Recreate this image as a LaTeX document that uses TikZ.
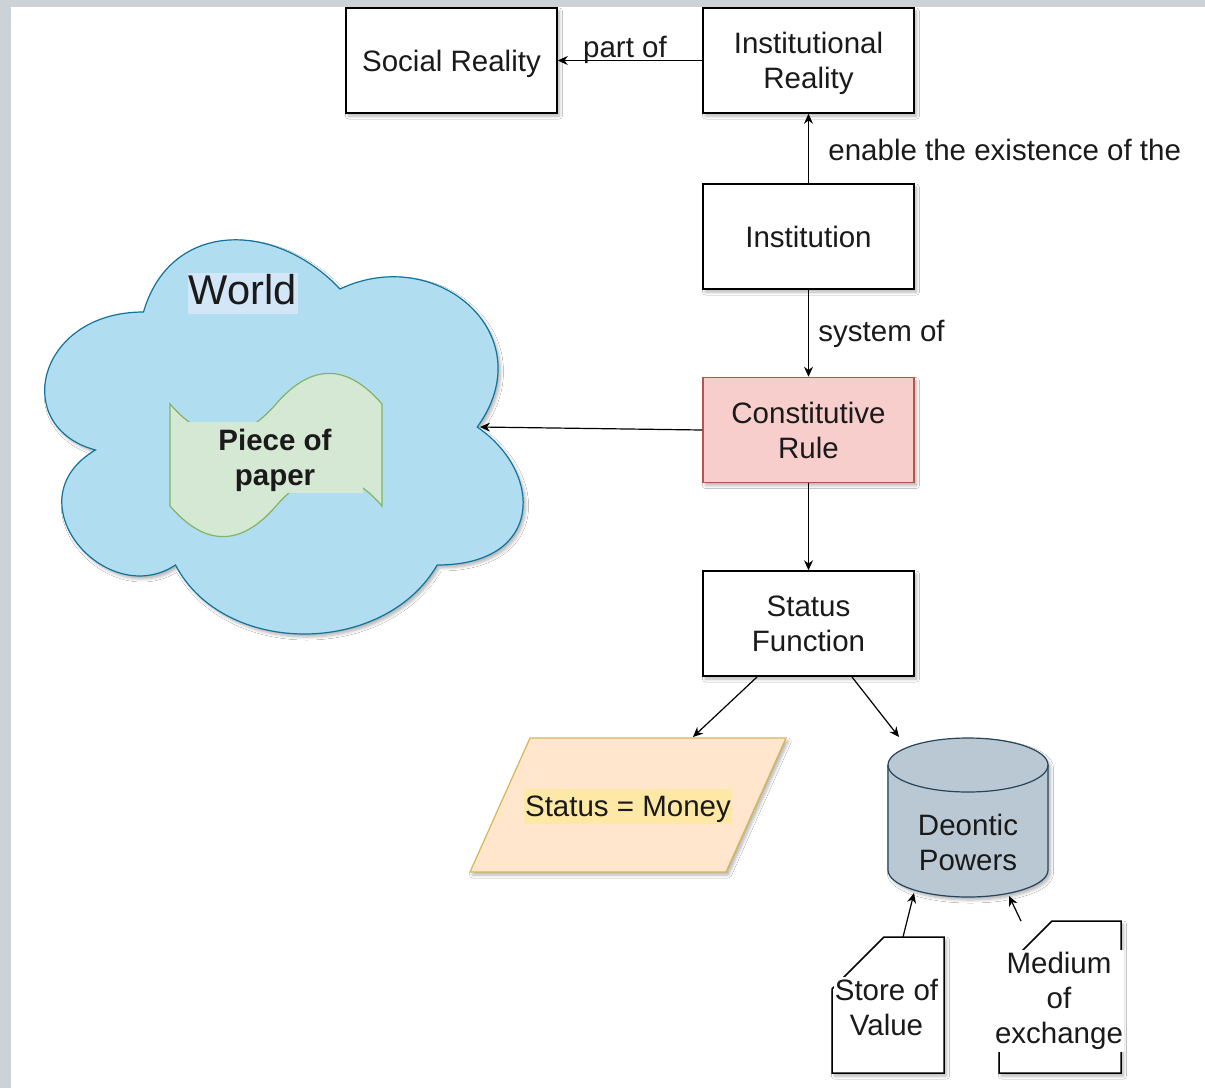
\documentclass[tikz,border=0pt]{standalone}
\usepackage{fontspec}
\setmainfont{Liberation Sans}
\usetikzlibrary{arrows.meta,shadows,shadows.blur}
\definecolor{framegrey}{HTML}{CDD2D7}
\definecolor{txt}{HTML}{1A1A1A}
\definecolor{rulefill}{HTML}{F8CECC}
\definecolor{rulestroke}{HTML}{B85450}
\definecolor{cloudfill}{HTML}{B1DDF0}
\definecolor{cloudstroke}{HTML}{10739E}
\definecolor{worldbg}{HTML}{D2E6F7}
\definecolor{tapefill}{HTML}{D5E8D4}
\definecolor{tapestroke}{HTML}{82B366}
\definecolor{moneyfill}{HTML}{FFE6CC}
\definecolor{moneystroke}{HTML}{D6B656}
\definecolor{moneybg}{HTML}{FDE8A6}
\definecolor{cylfill}{HTML}{BAC8D3}
\definecolor{cylstroke}{HTML}{23445D}
\newcommand\lblfont{\fontsize{14.75}{17.5}\selectfont}
\tikzset{
  myshadow/.style={blur shadow={shadow xshift=1.2pt, shadow yshift=-1.5pt, shadow blur radius=1.5pt, shadow blur steps=6, shadow opacity=30}},
  box/.style={draw=black, line width=0.75pt, fill=white, minimum width=105.5pt, minimum height=52.5pt, align=center, inner sep=0pt, font=\lblfont, text=txt, myshadow},
  lbl/.style={inner sep=0pt, font=\lblfont, text=txt, align=center},
  arr/.style={-{Stealth[length=5pt,width=4.5pt]}, line width=0.6pt, draw=black},
}
\begin{document}
\begin{tikzpicture}[x=0.5pt,y=-0.5pt]
\fill[white] (0,0) rectangle (1205,1088);
\fill[framegrey] (0,0) rectangle (11,1088);
\fill[framegrey] (0,0) rectangle (1205,7);
\useasboundingbox (0,0) rectangle (1205,1088);

% cloud
\path[fill=cloudfill, draw=cloudstroke, line width=0.6pt, myshadow]
  (143.5,312) .. controls (36.7,312) and (10,427) .. (95.4,450)
  .. controls (10,500.6) and (106.1,611) .. (175.5,565)
  .. controls (223.6,657) and (383.8,657) .. (437.2,565)
  .. controls (544,565) and (544,473) .. (477.25,427)
  .. controls (544,335) and (437.2,243) .. (340,289)
  .. controls (275,220) and (170.2,220) .. (143.5,312) -- cycle;
\node[inner sep=0pt, fill=worldbg, minimum width=55pt, minimum height=20.5pt, text depth=4pt, font=\fontsize{20.8}{24}\selectfont, text=txt] (world) at (242.5,293) {World};
\coordinate (cloudR) at (480,427);

% tape (piece of paper)
\path[fill=tapefill, draw=tapestroke, line width=0.6pt]
  (170,404) .. controls (205.3,444.8) and (240.7,444.8) .. (276,404)
  .. controls (311.3,363.2) and (346.7,363.2) .. (382,404)
  -- (382,506)
  .. controls (346.7,465.2) and (311.3,465.2) .. (276,506)
  .. controls (240.7,546.8) and (205.3,546.8) .. (170,506) -- cycle;
\node[lbl, fill=tapefill, minimum width=88pt, minimum height=35.5pt, text depth=0pt, font=\lblfont\bfseries] (paper) at (275,457.5) {Piece of\\paper};

% boxes
\node[box, text depth=0pt] (soc) at (451.5,60.5) {Social Reality};
\node[box, text depth=0pt] (inst) at (808.5,60.5) {Institutional\\Reality};
\node[box] (instit) at (808.5,236.5) {Institution};
\node[box, fill=rulefill, draw=rulestroke] (crule) at (808.5,430) {Constitutive\\Rule};
\node[box] (sf) at (808.5,623.5) {Status\\Function};

% edge labels
\node[lbl, text depth=0pt] (lpart) at (625,47) {part of};
\node[lbl, anchor=west] (lenable) at (828,150) {enable the existence of the};
\node[lbl, anchor=west, text depth=0pt] (lsystem) at (818,331) {system of};

% parallelogram
\path[fill=moneyfill, draw=moneystroke, line width=0.6pt, myshadow]
  (530,738) -- (786,738) -- (726,872) -- (470,872) -- cycle;
\node[lbl, fill=moneybg, inner xsep=0.75pt, minimum height=17.5pt, text depth=0pt] (money) at (628,806) {Status = Money};
\coordinate (moneyTop) at (693,737);

% cylinder
\path[fill=cylfill, draw=cylstroke, line width=0.6pt, myshadow]
  (888,765) -- (888,870)
  .. controls (888,884.9) and (923.8,897) .. (968,897)
  .. controls (1012.2,897) and (1048,884.9) .. (1048,870)
  -- (1048,765)
  .. controls (1048,750.1) and (1012.2,738) .. (968,738)
  .. controls (923.8,738) and (888,750.1) .. (888,765) -- cycle;
\draw[cylstroke, line width=0.6pt] (888,765) .. controls (888,779.9) and (923.8,792) .. (968,792)
  .. controls (1012.2,792) and (1048,779.9) .. (1048,765);
\node[lbl] (deontic) at (968,842) {Deontic\\Powers};
\coordinate (cylTop) at (899,737);
\coordinate (cylBotL) at (914,893);
\coordinate (cylBotR) at (1009,896);

% cards
\path[fill=white, draw=black, line width=0.75pt, myshadow]
  (884,937) -- (944,937) -- (944,1073) -- (832,1073) -- (832,989) -- cycle;
\node[lbl, fill=white, inner xsep=0.5pt, inner ysep=1pt] (store) at (886.5,1007) {Store of\\Value};
\coordinate (storeTop) at (903,937);
\path[fill=white, draw=black, line width=0.75pt, myshadow]
  (1052,921) -- (1121,921) -- (1121,1073) -- (999,1073) -- (999,974) -- cycle;
\node[lbl, fill=white, inner xsep=0.5pt, inner ysep=1pt] (medium) at (1059,1001) {Medium\\of\\exchange};
\coordinate (mediumTop) at (1021,921);

% status function ends
\coordinate (sfL) at (757,677);
\coordinate (sfR) at (852,677);

% connectors
\draw[arr] (inst.west) -- (soc.east);
\draw[arr] (instit.north) -- (inst.south);
\draw[arr] (instit.south) -- (crule.north);
\draw[arr] (crule.west) -- (cloudR);
\draw[arr] (crule.south) -- (sf.north);
\draw[arr] (sfL) -- (moneyTop);
\draw[arr] (sfR) -- (cylTop);
\draw[arr] (storeTop) -- (cylBotL);
\draw[arr] (mediumTop) -- (cylBotR);
\end{tikzpicture}
\end{document}
